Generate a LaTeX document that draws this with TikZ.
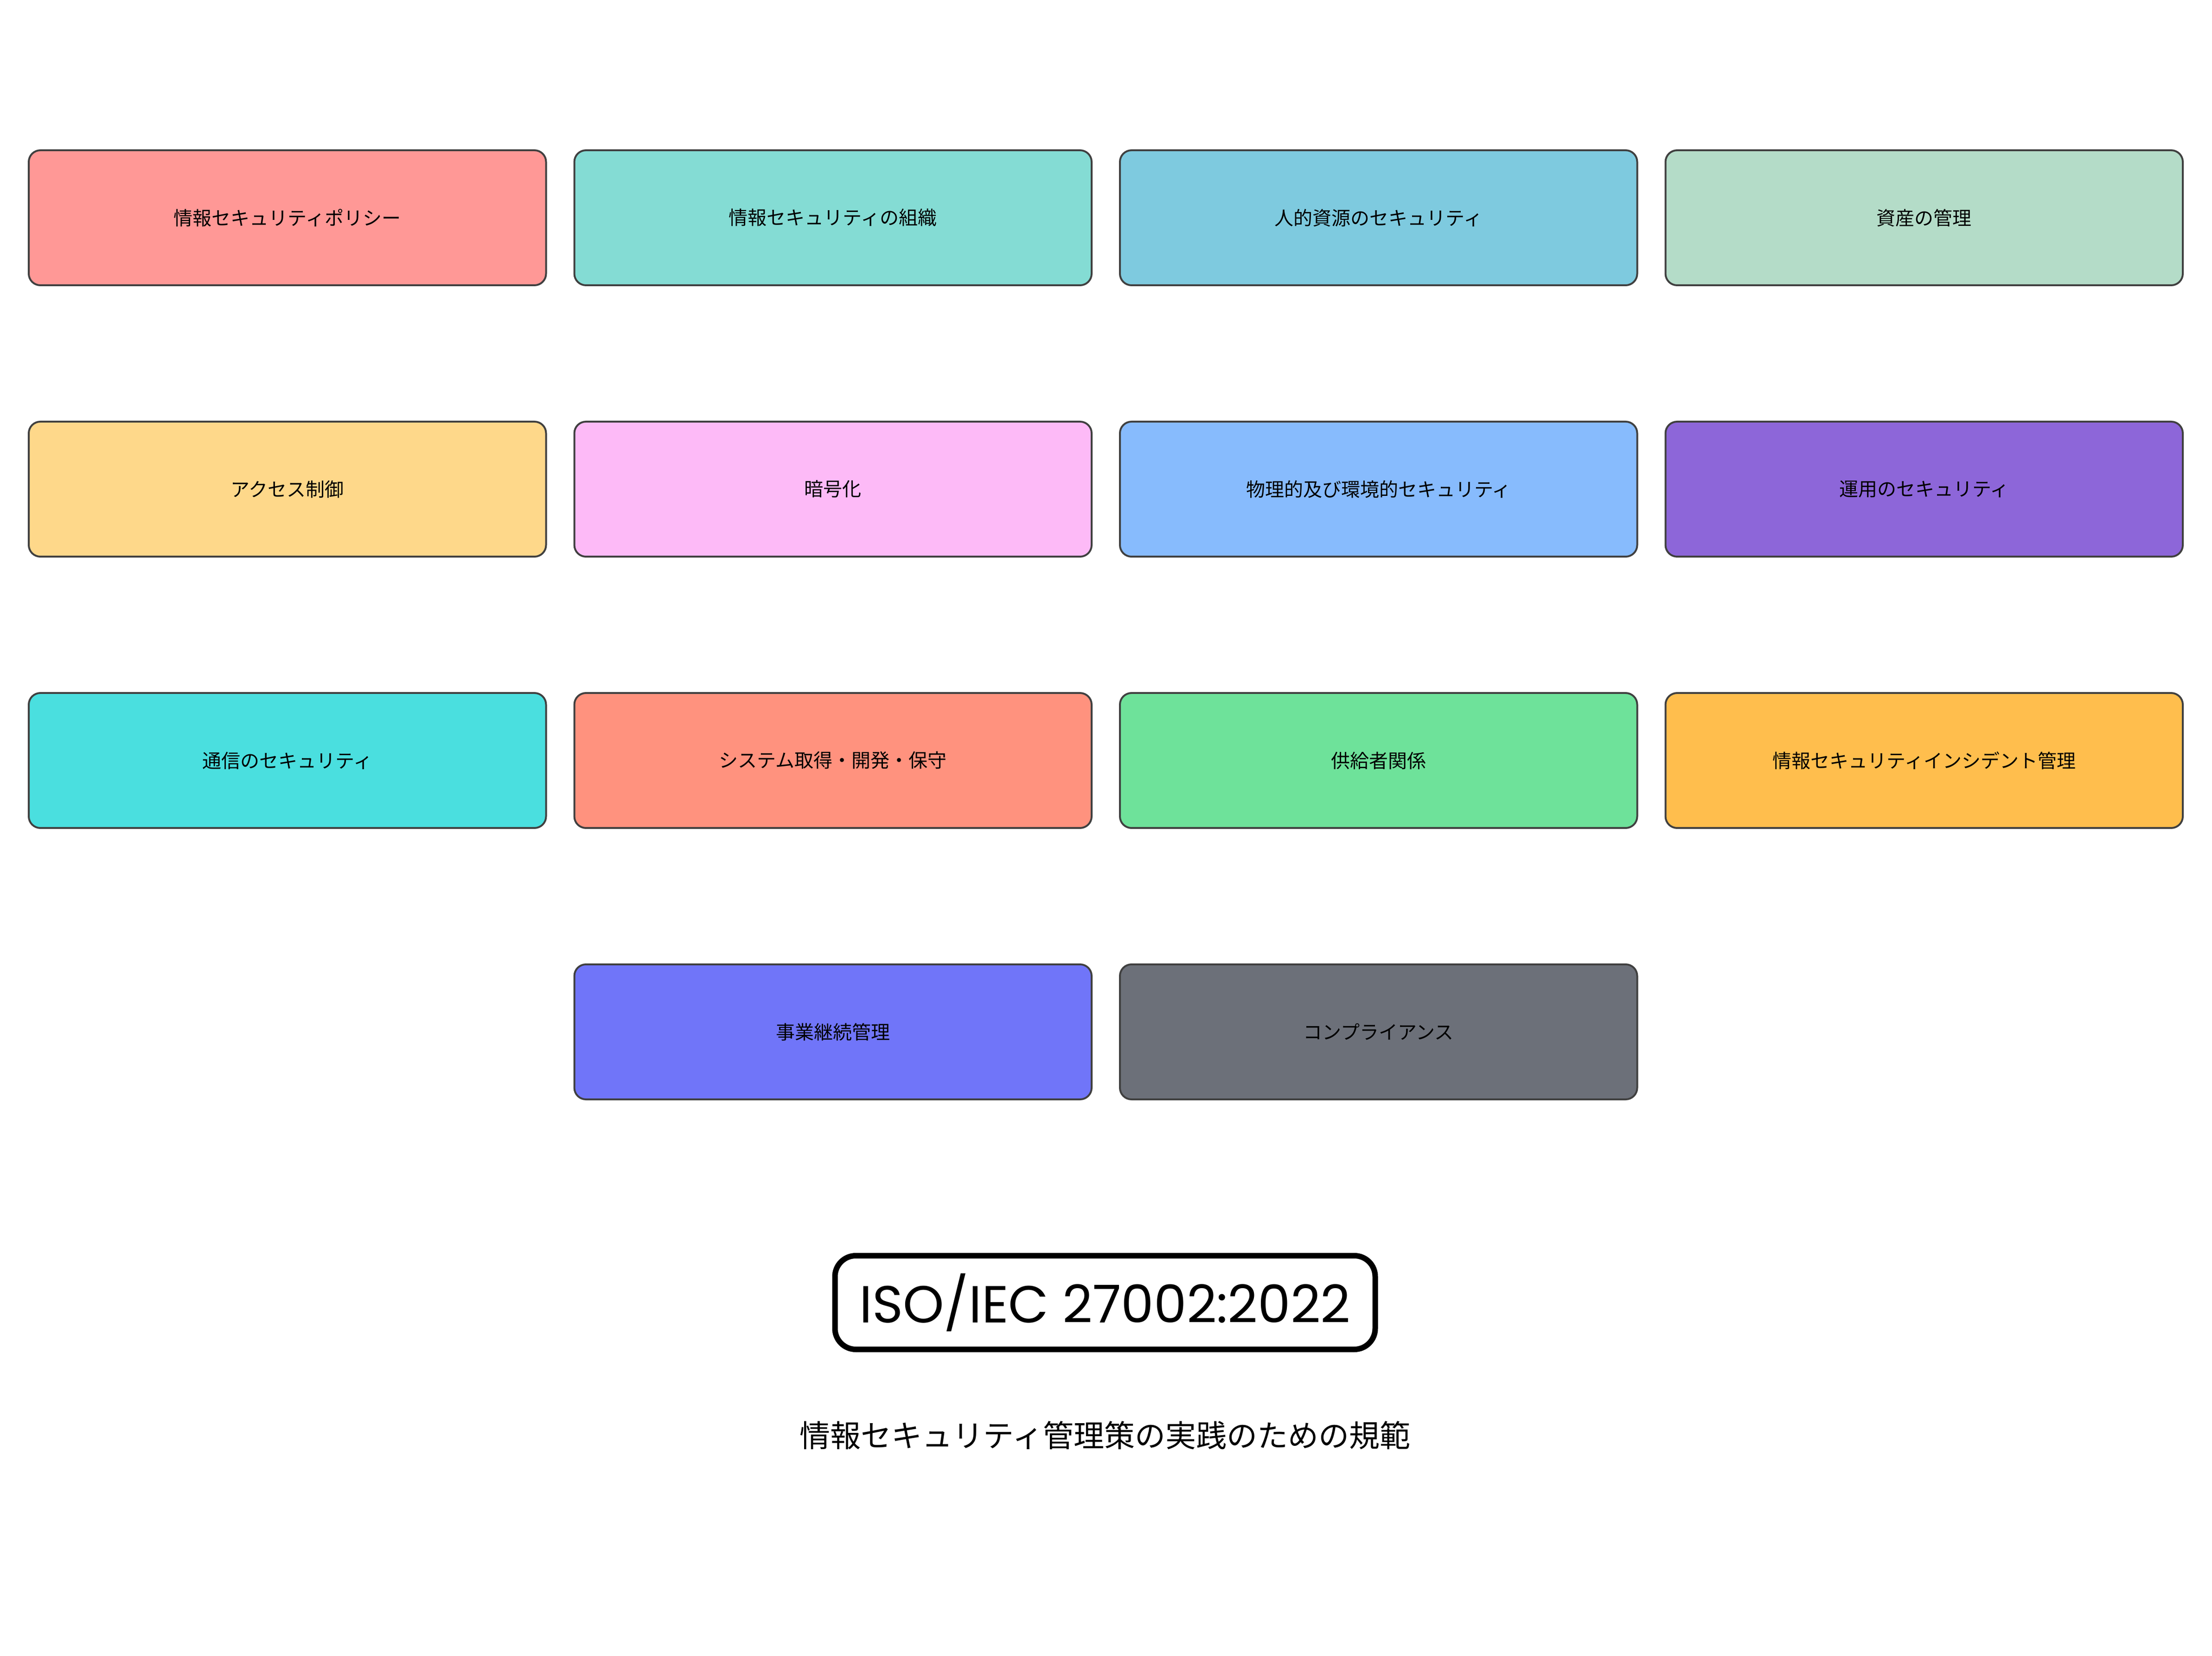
\documentclass[tikz,border=0pt]{standalone}
\usepackage{fontspec}
\setmainfont{Noto Sans CJK JP}
\newfontfamily\titlefont{Poppins}
\usetikzlibrary{positioning}
\definecolor{boxline}{HTML}{404040}
\definecolor{policy}{HTML}{FF9896}
\definecolor{org}{HTML}{84DCD4}
\definecolor{human}{HTML}{7ECADF}
\definecolor{asset}{HTML}{B4DCC8}
\definecolor{access}{HTML}{FED88A}
\definecolor{crypto}{HTML}{FDBAF7}
\definecolor{physical}{HTML}{87BBFD}
\definecolor{ops}{HTML}{8D66D9}
\definecolor{comms}{HTML}{4ADFDF}
\definecolor{sysdev}{HTML}{FF927E}
\definecolor{supplier}{HTML}{6EE29A}
\definecolor{incident}{HTML}{FFBE4D}
\definecolor{bcm}{HTML}{7075F9}
\definecolor{compliance}{HTML}{6C7079}
\begin{document}
\begin{tikzpicture}[node distance={58pt and 11.4pt}, line width=0.8pt,
            main/.style = {draw=boxline, rounded corners=5pt, inner sep=0pt,
                           minimum width=223.1pt, minimum height=58.2pt,
                           font=\fontsize{8.2}{10}\selectfont}]
                \useasboundingbox (0,0) rectangle (954pt,-714pt);
                \node[main, fill = policy, anchor=north west] (policy) at (12pt,-64.4pt) {情報セキュリティポリシー};
                \node[main, fill = org] (org) [right=of policy] {情報セキュリティの組織};
                \node[main, fill = human] (human) [right=of org] {人的資源のセキュリティ};
                \node[main, fill = asset] (asset) [right=of human] {資産の管理};

                \node[main, fill = access] (access) [below=of policy] {アクセス制御};
                \node[main, fill = crypto] (crypto) [right=of access] {暗号化};
                \node[main, fill = physical] (physical) [right=of crypto] {物理的及び環境的セキュリティ};
                \node[main, fill = ops] (ops) [right=of physical] {運用のセキュリティ};

                \node[main, fill = comms] (comms) [below=of access] {通信のセキュリティ};
                \node[main, fill = sysdev] (sysdev) [right=of comms] {システム取得・開発・保守};
                \node[main, fill = supplier] (supplier) [right=of sysdev] {供給者関係};
                \node[main, fill = incident] (incident) [right=of supplier] {情報セキュリティインシデント管理};

                \node[main, fill = bcm] (bcm) [below=of sysdev] {事業継続管理};
                \node[main, fill = compliance] (compliance) [below=of supplier] {コンプライアンス};

                \node[draw, line width=2.4pt, rounded corners=9pt, minimum width=233pt, minimum height=40.4pt,
                      font=\titlefont\fontsize{22.5}{26}\selectfont] (title) at (476.6pt,-561.6pt) {ISO/IEC 27002:2022};
                \node[font=\fontsize{13.2}{16}\selectfont] (subtitle) at (476.6pt,-618.8pt) {情報セキュリティ管理策の実践のための規範};
        \end{tikzpicture}
\end{document}
